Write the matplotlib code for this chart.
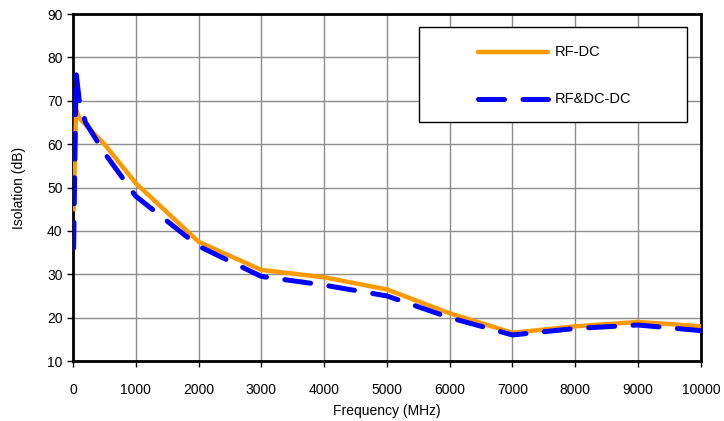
import numpy as np
import matplotlib.pyplot as plt
from matplotlib.patches import Rectangle

# Data
freq = [10, 50, 100, 200, 500, 1000, 2000, 3000, 4000, 5000, 6000, 7000, 8000, 9000, 10000]
rf_dc = [45, 68, 66, 64.5, 60, 51, 37.5, 31, 29.3, 26.5, 21, 16.5, 18, 19, 18]
rfdc_dc = [36, 76.5, 70, 65, 58, 48, 36.5, 29.5, 27.5, 25, 20, 16, 17.5, 18.3, 17]

plt.rcParams['font.family'] = ['Liberation Sans', 'DejaVu Sans']

blue_dash = (5.2, 3.7)

fig = plt.figure(figsize=(7.24, 4.21), dpi=100)
ax = fig.add_axes([0.1008, 0.1425, 0.8672, 0.8242])

ax.plot(freq, rf_dc, color='#FF9900', lw=3.2, solid_joinstyle='round', zorder=3)
ax.plot(freq, rfdc_dc, color='#0000FF', lw=3.6, dashes=blue_dash, dash_capstyle='round', zorder=4)

ax.set_xlim(0, 10000)
ax.set_ylim(10, 90)
ax.set_xticks(np.arange(0, 10001, 1000))
ax.set_yticks(np.arange(10, 91, 10))
ax.grid(True, color='#8c8c8c', lw=1)
ax.set_axisbelow(True)
for s in ax.spines.values():
    s.set_linewidth(2)
    s.set_color('black')
ax.tick_params(direction='out', length=4, width=1, labelsize=10)
ax.tick_params(axis='x', pad=12)
ax.set_xlabel('Frequency (MHz)', fontsize=10, labelpad=5)
ax.set_ylabel('Isolation (dB)', fontsize=10, labelpad=15)

# legend drawn by hand to match the boxed layout
ax.add_patch(Rectangle((0.551, 0.689), 0.427, 0.2735, transform=ax.transAxes,
                       facecolor='white', edgecolor='black', lw=1, zorder=5))
ax.plot([0.645, 0.756], [0.8905, 0.8905], transform=ax.transAxes, color='#FF9900',
        lw=3.2, zorder=6, solid_capstyle='round')
ax.plot([0.645, 0.756], [0.755, 0.755], transform=ax.transAxes, color='#0000FF',
        lw=3.6, dashes=blue_dash, dash_capstyle='round', zorder=6)
ax.text(0.768, 0.8905, 'RF-DC', transform=ax.transAxes, va='center', fontsize=10.5, zorder=7)
ax.text(0.768, 0.755, 'RF&DC-DC', transform=ax.transAxes, va='center', fontsize=10.5, zorder=7)

fig.savefig('out.png', dpi=100)
